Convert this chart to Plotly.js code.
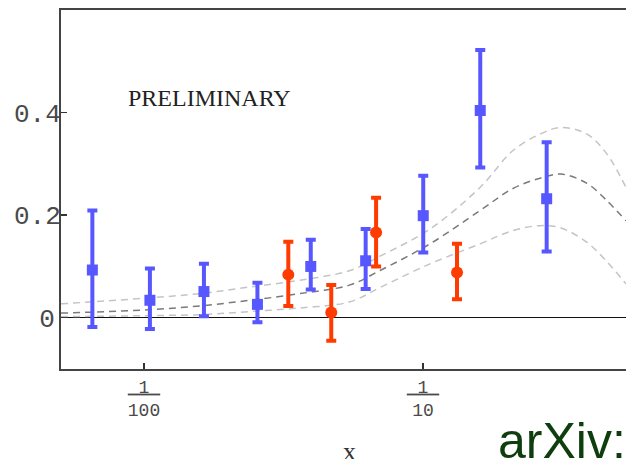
<!DOCTYPE html>
<html>
<head>
<meta charset="utf-8">
<script src="https://cdn.plot.ly/plotly-3.0.1.min.js"></script>
<style>html,body{margin:0;padding:0;background:#fff;}#chart{width:626px;height:459px;}</style>
</head>
<body>
<div id="chart"></div>
<script>
// Blue data (squares)
const blueX    = [0.00653, 0.0105, 0.0164, 0.0255, 0.0396, 0.0623, 0.1002, 0.1604, 0.2775];
const blueY    = [0.093,   0.034,  0.051,  0.026,  0.100,  0.111,  0.199,  0.404,  0.232];
const blueHigh = [0.209,   0.096,  0.105,  0.068,  0.152,  0.173,  0.277,  0.522,  0.342];
const blueLow  = [-0.018, -0.022,  0.003, -0.009,  0.055,  0.056,  0.127,  0.293,  0.129];

// Red data (circles)
const redX    = [0.0329, 0.0469, 0.0679, 0.1324];
const redY    = [0.084,  0.010,  0.166,  0.088];
const redHigh = [0.148,  0.064,  0.234,  0.144];
const redLow  = [0.023, -0.045,  0.100,  0.036];

// Model curves (central and band)
const curveX     = [0.00504, 0.0100, 0.01588, 0.02398, 0.03623, 0.05475, 0.07014, 0.1059, 0.1601, 0.2102, 0.2627, 0.3123, 0.3870, 0.4565, 0.534];
const curveUpper = [0.027,   0.038,  0.047,   0.060,   0.073,   0.092,   0.120,   0.173,  0.254,  0.326,  0.358,  0.371,  0.358,  0.319,  0.254];
const curveMid   = [0.009,   0.015,  0.023,   0.034,   0.047,   0.064,   0.092,   0.144,  0.209,  0.252,  0.272,  0.280,  0.262,  0.228,  0.189];
const curveLower = [0.002,   0.004,  0.006,   0.012,   0.019,   0.031,   0.059,   0.105,  0.144,  0.170,  0.1795, 0.175,  0.147,  0.109,  0.066];

// Axis ticks
const xTickVals = [0.01, 0.1];
const xTickText = ['<u>&nbsp;1&nbsp;</u><br>100', '<u>&nbsp;1&nbsp;</u><br>10'];
const yTickVals = [0, 0.2, 0.4];
const yTickText = ['0<span style="font-size:10px">&nbsp;</span>', '0.2', '0.4'];
const xAxisLabel = 'x';

const up = (hi, y) => hi.map((h, i) => h - y[i]);
const dn = (lo, y) => lo.map((l, i) => y[i] - l);

const curveStyle = (c) => ({color: c, width: 1.5, dash: '7px,5px', shape: 'spline', smoothing: 1});

const traces = [
  {x: curveX, y: curveUpper, mode: 'lines', line: curveStyle('#c4c4c4'), hoverinfo: 'skip', showlegend: false},
  {x: curveX, y: curveLower, mode: 'lines', line: curveStyle('#c4c4c4'), hoverinfo: 'skip', showlegend: false},
  {x: curveX, y: curveMid,   mode: 'lines', line: curveStyle('#7a7a7a'), hoverinfo: 'skip', showlegend: false},
  {x: blueX, y: blueY, mode: 'markers', showlegend: false,
   marker: {symbol: 'square', size: 11, color: '#5757ff'},
   error_y: {type: 'data', symmetric: false, array: up(blueHigh, blueY), arrayminus: dn(blueLow, blueY),
             color: '#5757ff', thickness: 4, width: 5}},
  {x: redX, y: redY, mode: 'markers', showlegend: false,
   marker: {symbol: 'circle', size: 12, color: '#ff3c00'},
   error_y: {type: 'data', symmetric: false, array: up(redHigh, redY), arrayminus: dn(redLow, redY),
             color: '#ff3c00', thickness: 4, width: 5}}
];

const layout = {
  width: 626, height: 459,
  margin: {l: 61, r: 0, t: 10, b: 90},
  paper_bgcolor: '#fff', plot_bgcolor: '#fff',
  showlegend: false,
  xaxis: {
    type: 'log', range: [-2.2975, -0.2724],
    tickvals: xTickVals, ticktext: xTickText,
    ticks: 'inside', ticklen: 6, tickwidth: 1.5, tickcolor: '#333',
    showgrid: false, zeroline: false,
    showline: true, linecolor: '#444', linewidth: 2, mirror: true,
    tickfont: {family: 'Liberation Mono, monospace', size: 18, color: '#4a4a4a'}
  },
  yaxis: {
    range: [-0.1, 0.6],
    tickvals: yTickVals, ticktext: yTickText,
    ticks: 'inside', ticklen: 6, tickwidth: 1.5, tickcolor: '#333',
    ticklabelstandoff: -7,
    showgrid: false,
    zeroline: true, zerolinecolor: '#111', zerolinewidth: 1.5,
    showline: true, linecolor: '#444', linewidth: 2,
    tickfont: {family: 'Liberation Mono, monospace', size: 26, color: '#4a4a4a'}
  },
  annotations: [
    {text: xAxisLabel, xref: 'paper', yref: 'paper', x: 0.5115, y: -0.231, showarrow: false,
     xanchor: 'center', yanchor: 'middle',
     font: {family: 'Liberation Serif, serif', size: 26, color: '#333'}},
    {text: 'PRELIMINARY', xref: 'paper', yref: 'paper', x: 0.263, y: 0.755, showarrow: false,
     xanchor: 'center', yanchor: 'middle',
     font: {family: 'Liberation Serif, serif', size: 24, color: '#222'}},
    {text: 'arXiv:', xref: 'paper', yref: 'paper', x: 0.770, y: -0.117, showarrow: false,
     xanchor: 'left', yanchor: 'top',
     font: {family: 'Liberation Sans, Arial, sans-serif', size: 50, color: '#0e3d0e'}}
  ]
};

Plotly.newPlot('chart', traces, layout, {displayModeBar: false, staticPlot: true});
</script>
</body>
</html>
